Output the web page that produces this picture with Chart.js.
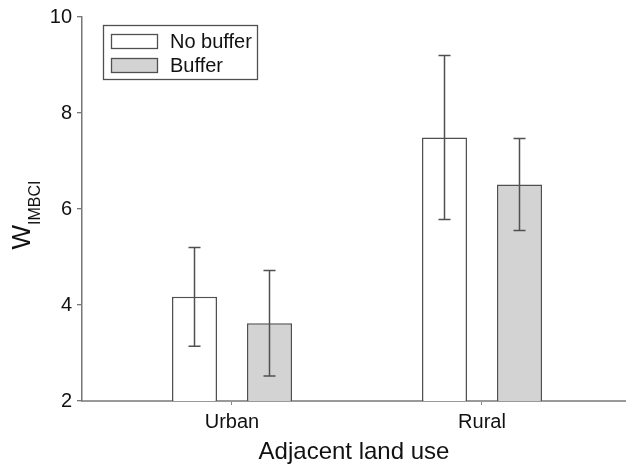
<!DOCTYPE html>
<html>
<head>
<meta charset="utf-8">
<script src="https://cdn.jsdelivr.net/npm/chart.js@4"></script>
<style>
  html, body { margin: 0; padding: 0; background: #fff; overflow: hidden; }
  #wrap { width: 626px; height: 467px; position: relative; }
</style>
</head>
<body>
<div id="wrap"><canvas id="c"></canvas></div>
<script>
// Categories and series
const categories = ['Urban', 'Rural'];
const seriesNames = ['No buffer', 'Buffer'];
const noBuffer = [4.17, 7.49];
const buffer = [3.62, 6.51];
// Error bar half-widths (± around the mean)
const noBufferErr = [1.03, 1.71];
const bufferErr = [1.10, 0.96];
// Axis ticks and titles
const yTicks = [2, 4, 6, 8, 10];
const xTitle = 'Adjacent land use';
const yTitleMain = 'W';
const yTitleSub = 'IMBCI';

const FONT = '"Liberation Sans", Arial, Helvetica, sans-serif';
const EDGE = '#505050';

const toPoints = vals => vals.map((v, i) => ({ x: i + 1, y: v }));

// Vertical error bars with caps, centred on each bar
const errorBars = {
  id: 'errorBars',
  afterDatasetsDraw(chart) {
    const { ctx } = chart;
    const ys = chart.scales.y;
    chart.data.datasets.forEach((ds, d) => {
      const meta = chart.getDatasetMeta(d);
      meta.data.forEach((bar, i) => {
        const mean = ds.data[i].y;
        const e = ds.errors[i];
        const top = ys.getPixelForValue(mean + e);
        const bot = ys.getPixelForValue(mean - e);
        const cap = 6;
        ctx.save();
        ctx.strokeStyle = EDGE;
        ctx.lineWidth = 1.5;
        ctx.beginPath();
        ctx.moveTo(bar.x, top); ctx.lineTo(bar.x, bot);
        ctx.moveTo(bar.x - cap, top); ctx.lineTo(bar.x + cap, top);
        ctx.moveTo(bar.x - cap, bot); ctx.lineTo(bar.x + cap, bot);
        ctx.stroke();
        ctx.restore();
      });
    });
  }
};

// Boxed legend in the upper-left corner of the plot
const boxLegend = {
  id: 'boxLegend',
  afterDraw(chart) {
    const { ctx, chartArea } = chart;
    const bx = chartArea.left + 21, by = chartArea.top + 8;
    const bw = 154, bh = 54;
    ctx.save();
    ctx.strokeStyle = EDGE;
    ctx.lineWidth = 1.3;
    ctx.fillStyle = '#fff';
    ctx.fillRect(bx, by, bw, bh);
    ctx.strokeRect(bx + 0.5, by + 0.5, bw, bh);
    ctx.font = '20px ' + FONT;
    ctx.textBaseline = 'middle';
    chart.data.datasets.forEach((ds, d) => {
      const sy = by + 9 + d * 24;
      ctx.fillStyle = ds.backgroundColor;
      ctx.fillRect(bx + 8, sy, 46, 14);
      ctx.strokeStyle = EDGE;
      ctx.lineWidth = 1.3;
      ctx.strokeRect(bx + 8.5, sy + 0.5, 46, 14);
      ctx.fillStyle = '#111';
      ctx.fillText(ds.label, bx + 67, sy + 8);
    });
    ctx.restore();
  }
};

// Rotated y-axis title with subscript
const yTitle = {
  id: 'yTitle',
  afterDraw(chart) {
    const { ctx, chartArea } = chart;
    const cy = (chartArea.top + chartArea.bottom) / 2 + 6;
    ctx.save();
    ctx.translate(30, cy);
    ctx.rotate(-Math.PI / 2);
    ctx.fillStyle = '#111';
    ctx.textBaseline = 'alphabetic';
    ctx.font = '26px ' + FONT;
    const wMain = ctx.measureText(yTitleMain).width;
    ctx.font = '16px ' + FONT;
    const wSub = ctx.measureText(yTitleSub).width;
    const start = -(wMain + wSub) / 2;
    ctx.font = '26px ' + FONT;
    ctx.fillText(yTitleMain, start, 0);
    ctx.font = '16px ' + FONT;
    ctx.fillText(yTitleSub, start + wMain, 10);
    ctx.restore();
  }
};

new Chart(document.getElementById('c'), {
  type: 'bar',
  data: {
    datasets: [
      {
        label: seriesNames[0],
        data: toPoints(noBuffer),
        errors: noBufferErr,
        backgroundColor: '#ffffff',
        borderColor: EDGE,
        borderWidth: 1.5
      },
      {
        label: seriesNames[1],
        data: toPoints(buffer),
        errors: bufferErr,
        backgroundColor: '#d3d3d3',
        borderColor: EDGE,
        borderWidth: 1.5
      }
    ]
  },
  options: {
    responsive: true,
    maintainAspectRatio: false,
    animation: false,
    categoryPercentage: 0.6,
    barPercentage: 0.6,
    layout: { padding: { top: 17, right: 0, left: 0, bottom: 0 } },
    plugins: {
      legend: { display: false },
      tooltip: { enabled: false }
    },
    scales: {
      x: {
        type: 'linear',
        min: 0.4,
        max: 2.576,
        offset: false,
        afterBuildTicks: s => { s.ticks = categories.map((c, i) => ({ value: i + 1 })); },
        afterFit: s => { s.height = 66; },
        grid: { offset: false, drawOnChartArea: false, drawTicks: true, tickLength: 4, color: '#888', lineWidth: 1 },
        border: { display: true, color: '#999', width: 2 },
        ticks: {
          autoSkip: false,
          maxRotation: 0,
          padding: 5,
          color: '#111',
          font: { family: FONT, size: 20 },
          callback: v => categories[v - 1]
        },
        title: {
          display: true,
          text: xTitle,
          color: '#111',
          font: { family: FONT, size: 24 },
          padding: { top: 0, bottom: 0 }
        }
      },
      y: {
        min: 2,
        max: 10,
        afterBuildTicks: s => { s.ticks = yTicks.map(v => ({ value: v })); },
        afterFit: s => { s.width = 82; },
        grid: { drawOnChartArea: false, drawTicks: true, tickLength: 5, color: '#777', lineWidth: 1.3 },
        border: { display: true, color: '#777', width: 1.5 },
        ticks: {
          padding: 5,
          color: '#111',
          font: { family: FONT, size: 20 }
        }
      }
    }
  },
  plugins: [errorBars, boxLegend, yTitle]
});
</script>
</body>
</html>
